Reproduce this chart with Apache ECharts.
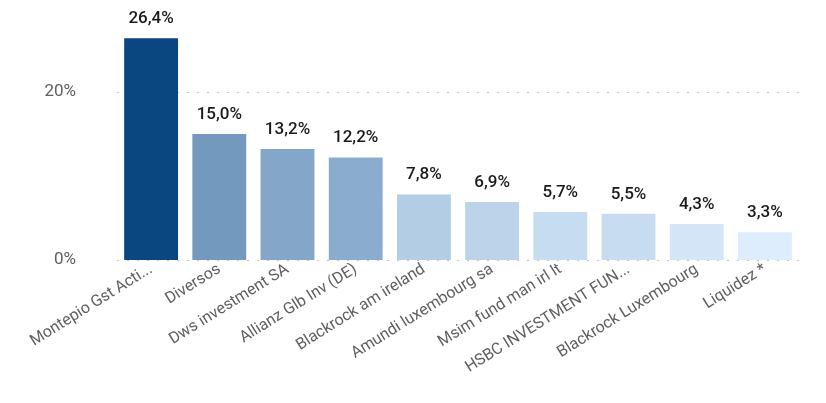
<!DOCTYPE html>
<html>
<head>
<meta charset="utf-8">
<script src="https://cdn.jsdelivr.net/npm/echarts@6/dist/echarts.min.js"></script>
<style>
  html, body { margin: 0; padding: 0; background: #fff; }
  #chart { width: 826px; height: 403px; }
</style>
</head>
<body>
<div id="chart"></div>
<script>
const categories = [
  'Montepio Gst Acti...',
  'Diversos',
  'Dws investment SA',
  'Allianz Glb Inv (DE)',
  'Blackrock am ireland',
  'Amundi luxembourg sa',
  'Msim fund man irl lt',
  'HSBC INVESTMENT FUN...',
  'Blackrock Luxembourg',
  'Liquidez *'
];
const values = [26.4, 15.0, 13.2, 12.2, 7.8, 6.9, 5.7, 5.5, 4.3, 3.3];
const barColors = [
  '#0a4680', '#7399bf', '#84a7c9', '#8aadcf', '#b3cde4',
  '#bcd3e9', '#c6dcf0', '#c8dcf1', '#d3e5f6', '#ddedfc'
];

const font = 'Roboto, "DejaVu Sans", sans-serif';
const chart = echarts.init(document.getElementById('chart'));

chart.setOption({
  animation: false,
  backgroundColor: '#ffffff',
  grid: { left: 117, right: 27, top: 8, bottom: 143 },
  xAxis: {
    type: 'category',
    data: categories,
    axisLine: { show: false },
    axisTick: { show: false },
    axisLabel: {
      interval: 0,
      rotate: 32,
      margin: 8,
      color: '#5f5f5f',
      fontSize: 16,
      fontFamily: font
    }
  },
  yAxis: {
    type: 'value',
    min: 0,
    max: 30,
    interval: 20,
    axisLine: { show: false },
    axisTick: { show: false },
    axisLabel: {
      color: '#5f5f5f',
      fontSize: 17,
      fontFamily: font,
      margin: 41,
      showMaxLabel: false,
      formatter: v => v + '%'
    },
    splitLine: {
      showMaxLine: false,
      lineStyle: { color: '#c4c4c4', width: 1, type: [2, 8] }
    }
  },
  series: [{
    type: 'bar',
    data: values.map((v, i) => ({ value: v, itemStyle: { color: barColors[i] } })),
    barCategoryGap: '21%',
    label: {
      show: true,
      position: 'top',
      distance: 11,
      color: '#1a1a1a',
      fontSize: 17,
      fontWeight: 500,
      fontFamily: font,
      formatter: p => p.value.toFixed(1).replace('.', ',') + '%'
    }
  }]
});
</script>
</body>
</html>
